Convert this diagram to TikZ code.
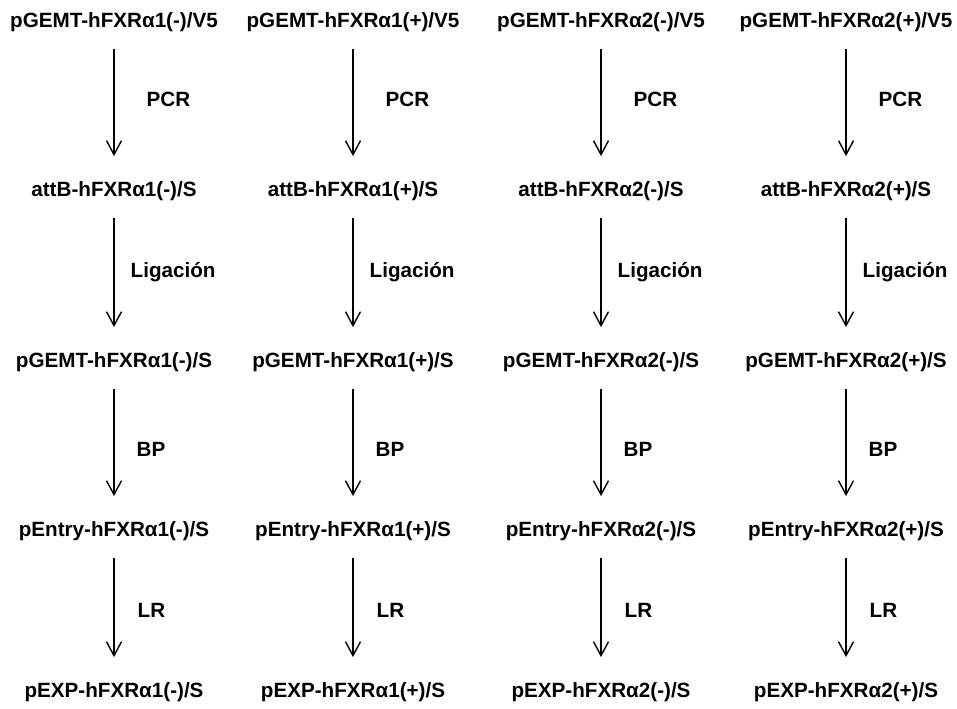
\documentclass[tikz,border=0pt]{standalone}
\usepackage{fontspec}
\setmainfont{Liberation Sans}
\usetikzlibrary{arrows.meta}
\tikzset{
  construct/.style={font=\bfseries\fontsize{11.75}{13}\selectfont,
    inner sep=0pt, text height=9pt, text depth=3pt},
  steplabel/.style={font=\bfseries\fontsize{11.75}{13}\selectfont,
    inner sep=0pt, anchor=west},
  reaction/.style={-{Straight Barb[length=2.8mm,width=3mm]},
    line width=0.8pt, shorten <=0.32cm, shorten >=0.48cm}
}
\begin{document}
\begin{tikzpicture}[x=0.02cm,y=-0.02cm]
\useasboundingbox (0,0) rectangle (957,708);
% one column per construct, one row per cloning step
\foreach \c/\x/\v in {1/114/1(-),2/353/1(+),3/601/2(-),4/846/2(+)}
{
  \node[construct] (r1c\c) at (\x,22)  {pGEMT-hFXRα\v/V5};
  \node[construct] (r2c\c) at (\x,191) {attB-hFXRα\v/S};
  \node[construct] (r3c\c) at (\x,362) {pGEMT-hFXRα\v/S};
  \node[construct] (r4c\c) at (\x,531) {pEntry-hFXRα\v/S};
  \node[construct] (r5c\c) at (\x,692) {pEXP-hFXRα\v/S};
}
\foreach \c in {1,...,4}
  \foreach \a/\b/\lab/\dx/\dy in {1/2/PCR/32/-7,2/3/Ligación/16/-4,3/4/BP/22/3,4/5/LR/23/-1}
    \draw[reaction] (r\a c\c) -- node[steplabel, xshift={\dx*0.02cm}, yshift={-\dy*0.02cm}] {\lab} (r\b c\c);
\end{tikzpicture}
\end{document}
